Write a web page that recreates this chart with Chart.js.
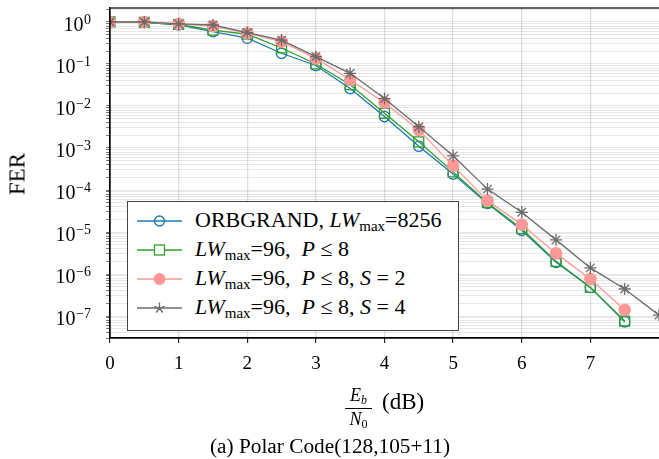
<!DOCTYPE html>
<html>
<head>
<meta charset="utf-8">
<script src="https://cdn.jsdelivr.net/npm/chart.js@4.4.1/dist/chart.umd.min.js"></script>
<style>
  body { margin: 0; background: #fff; }
  #wrap { position: relative; width: 659px; height: 459px; font-family: 'Liberation Serif', serif; color: #000; }
  #c { position: absolute; left: 0; top: 0; }
  .abs { position: absolute; white-space: nowrap; line-height: 1; }
  #fer { left: 17px; top: 174px; font-size: 23px; transform: translate(-50%, -50%) rotate(-90deg); }
  #frac { left: 345px; top: 386px; width: 27px; text-align: center; font-size: 18px; }
  #frac .num { display: block; padding-bottom: 2px; border-bottom: 1px solid #000; }
  #frac .den { display: block; padding-top: 1px; }
  #frac sub { font-size: 12px; font-style: italic; vertical-align: -3px; }
  #frac .den sub { font-style: normal; }
  #db { left: 382px; top: 390px; font-size: 23px; }
  #caption { left: 210px; top: 436px; font-size: 21.3px; }
  #legend { position: absolute; left: 127px; top: 201px; width: 330px; height: 124px; border: 1px solid #444; background: #fff; padding-top: 4px; box-sizing: content-box; }
  #legend .row { height: 29px; display: flex; align-items: center; font-size: 22px; }
  #legend svg { margin-left: 9px; margin-right: 13px; flex: none; }
  #legend sub { font-size: 15px; vertical-align: -4px; }
</style>
</head>
<body>
<div id="wrap">
  <canvas id="c" width="659" height="459"></canvas>
  <div class="abs" id="fer">FER</div>
  <div class="abs" id="frac"><span class="num"><i>E</i><sub>b</sub></span><span class="den"><i>N</i><sub>0</sub></span></div>
  <div class="abs" id="db">(dB)</div>
  <div class="abs" id="caption">(a) Polar Code(128,105+11)</div>
  <div id="legend">
    <div class="row">
      <svg width="45" height="20"><line x1="0" y1="10" x2="45" y2="10" stroke="#1f77b4" stroke-width="1.3"/><circle cx="22.5" cy="10" r="5" fill="none" stroke="#1f77b4" stroke-width="1.3"/></svg>
      <span>ORBGRAND, <i>LW</i><sub>max</sub>=8256</span>
    </div>
    <div class="row">
      <svg width="45" height="20"><line x1="0" y1="10" x2="45" y2="10" stroke="#2ca02c" stroke-width="1.3"/><rect x="17.5" y="5" width="10" height="10" fill="#fff" stroke="#2ca02c" stroke-width="1.3"/></svg>
      <span><i>LW</i><sub>max</sub>=96, &nbsp;<i>P</i> ≤ 8</span>
    </div>
    <div class="row">
      <svg width="45" height="20"><line x1="0" y1="10" x2="45" y2="10" stroke="#ff9896" stroke-width="1.3"/><circle cx="22.5" cy="10" r="6" fill="#ff9896"/></svg>
      <span><i>LW</i><sub>max</sub>=96, &nbsp;<i>P</i> ≤ 8, <i>S</i> = 2</span>
    </div>
    <div class="row">
      <svg width="45" height="20"><line x1="0" y1="10" x2="45" y2="10" stroke="#6b6b6b" stroke-width="1.3"/>
        <path d="M22.5 4.5 L22.5 10 M17.3 8.3 L22.5 10 M27.7 8.3 L22.5 10 M19.3 14.5 L22.5 10 M25.7 14.5 L22.5 10" stroke="#6b6b6b" stroke-width="1.3" fill="none"/></svg>
      <span><i>LW</i><sub>max</sub>=96, &nbsp;<i>P</i> ≤ 8, <i>S</i> = 4</span>
    </div>
  </div>
</div>
<script>
// Eb/N0 (dB) points
const snr = [0, 0.5, 1, 1.5, 2, 2.5, 3, 3.5, 4, 4.5, 5, 5.5, 6, 6.5, 7, 7.5];
const snrS4 = [0, 0.5, 1, 1.5, 2, 2.5, 3, 3.5, 4, 4.5, 5, 5.5, 6, 6.5, 7, 7.5, 8];

// FER per curve
const ferOrbgrand = [1, 0.98, 0.85, 0.59, 0.41, 0.18, 0.092, 0.026, 0.0056, 0.0011, 2.4e-4, 4.8e-5, 1.1e-5, 1.9e-6, 4.8e-7, 7.3e-8];
const ferP8       = [1, 0.98, 0.87, 0.64, 0.51, 0.24, 0.10, 0.032, 0.0067, 0.0014, 2.7e-4, 5.0e-5, 1.2e-5, 2.0e-6, 4.8e-7, 7.6e-8];
const ferP8S2     = [1, 1, 0.90, 0.80, 0.54, 0.34, 0.136, 0.042, 0.012, 0.0027, 3.8e-4, 5.6e-5, 1.5e-5, 3.1e-6, 7.6e-7, 1.4e-7];
const ferP8S4     = [1, 1, 0.90, 0.85, 0.56, 0.37, 0.15, 0.06, 0.015, 0.0032, 6.5e-4, 1.05e-4, 2.95e-5, 6.5e-6, 1.4e-6, 4.4e-7, 1.05e-7];

// axes
const xTicks = [0, 1, 2, 3, 4, 5, 6, 7];
const yDecades = [-7, -6, -5, -4, -3, -2, -1, 0];
const xMin = 0, xMax = 8;
const yMin = 3.0e-8, yMax = 2.15;

const pts = (xs, ys) => xs.map((x, i) => ({ x: x, y: ys[i] }));
const serif = 'Liberation Serif';

// frame + 10^k labels
const frameLabels = {
  id: 'frameLabels',
  afterDraw(chart) {
    const { ctx, chartArea: a } = chart;
    const y = chart.scales.y;
    ctx.save();
    ctx.strokeStyle = '#000';
    ctx.lineWidth = 1.2;
    ctx.strokeRect(a.left, a.top, a.right - a.left + 5, a.bottom - a.top);
    ctx.fillStyle = '#000';
    ctx.textBaseline = 'alphabetic';
    ctx.textAlign = 'left';
    const right = 91;
    yDecades.forEach(k => {
      const py = y.getPixelForValue(Math.pow(10, k));
      const exp = k === 0 ? '0' : '\u2212' + (-k);
      ctx.font = '14px "' + serif + '"';
      const ew = ctx.measureText(exp).width;
      ctx.fillText(exp, right - ew, py + 2);
      ctx.font = '20px "' + serif + '"';
      const bw = ctx.measureText('10').width;
      ctx.fillText('10', right - ew - bw - 0.5, py + 9);
    });
    ctx.restore();
  }
};

new Chart(document.getElementById('c'), {
  type: 'line',
  data: {
    datasets: [
      { label: 'ORBGRAND', data: pts(snr, ferOrbgrand), borderColor: '#1f77b4', borderWidth: 1.3,
        pointStyle: 'circle', pointRadius: 5.2, pointBorderWidth: 1.3, pointBackgroundColor: 'rgba(0,0,0,0)', pointBorderColor: '#1f77b4', order: 3 },
      { label: 'P<=8', data: pts(snr, ferP8), borderColor: '#2ca02c', borderWidth: 1.3,
        pointStyle: 'rect', pointRadius: 7, pointBorderWidth: 1.3, pointBackgroundColor: 'rgba(0,0,0,0)', pointBorderColor: '#2ca02c', order: 2 },
      { label: 'S=2', data: pts(snr, ferP8S2), borderColor: '#ff9896', borderWidth: 1.3,
        pointStyle: 'circle', pointRadius: 6.3, pointBorderWidth: 0, pointBackgroundColor: '#ff9896', pointBorderColor: '#ff9896', order: 1 },
      { label: 'S=4', data: pts(snrS4, ferP8S4), borderColor: '#6b6b6b', borderWidth: 1.3,
        pointStyle: 'star', pointRadius: 6, pointBorderWidth: 1.3, pointBackgroundColor: '#6b6b6b', pointBorderColor: '#6b6b6b', order: 0 }
    ]
  },
  options: {
    responsive: false,
    animation: false,
    layout: { autoPadding: false, padding: { top: 8, left: 0, right: 0, bottom: 0 } },
    plugins: { legend: { display: false }, tooltip: { enabled: false } },
    elements: { line: { tension: 0 } },
    scales: {
      x: {
        type: 'linear', min: xMin, max: xMax,
        afterFit: s => { s.height = 121; s.paddingRight = 0; s.paddingLeft = 0; },
        afterBuildTicks: s => { s.ticks = xTicks.map(v => ({ value: v })); },
        ticks: { font: { family: serif, size: 19 }, color: '#000', padding: 10 },
        grid: { color: '#e0e0e0', lineWidth: 1.3, tickLength: 5, tickColor: '#000', tickWidth: 1 },
        border: { color: '#000', width: 1.2 }
      },
      y: {
        type: 'logarithmic', min: yMin, max: yMax,
        afterFit: s => { s.width = 110; },
        afterBuildTicks: s => {
          const t = [];
          for (let k = yDecades[0] - 1; k <= yDecades[yDecades.length - 1]; k++) {
            for (let m = 1; m <= 9; m++) {
              const v = m * Math.pow(10, k);
              if (v >= yMin && v <= yMax) t.push({ value: v, major: m === 1 });
            }
          }
          s.ticks = t;
        },
        ticks: { display: false, autoSkip: false },
        grid: { color: 'rgba(0,0,0,0.095)', lineWidth: 1, tickLength: 4, tickColor: '#555', tickWidth: 0.8 },
        border: { color: '#000', width: 1.2 }
      }
    }
  },
  plugins: [frameLabels]
});
</script>
</body>
</html>
